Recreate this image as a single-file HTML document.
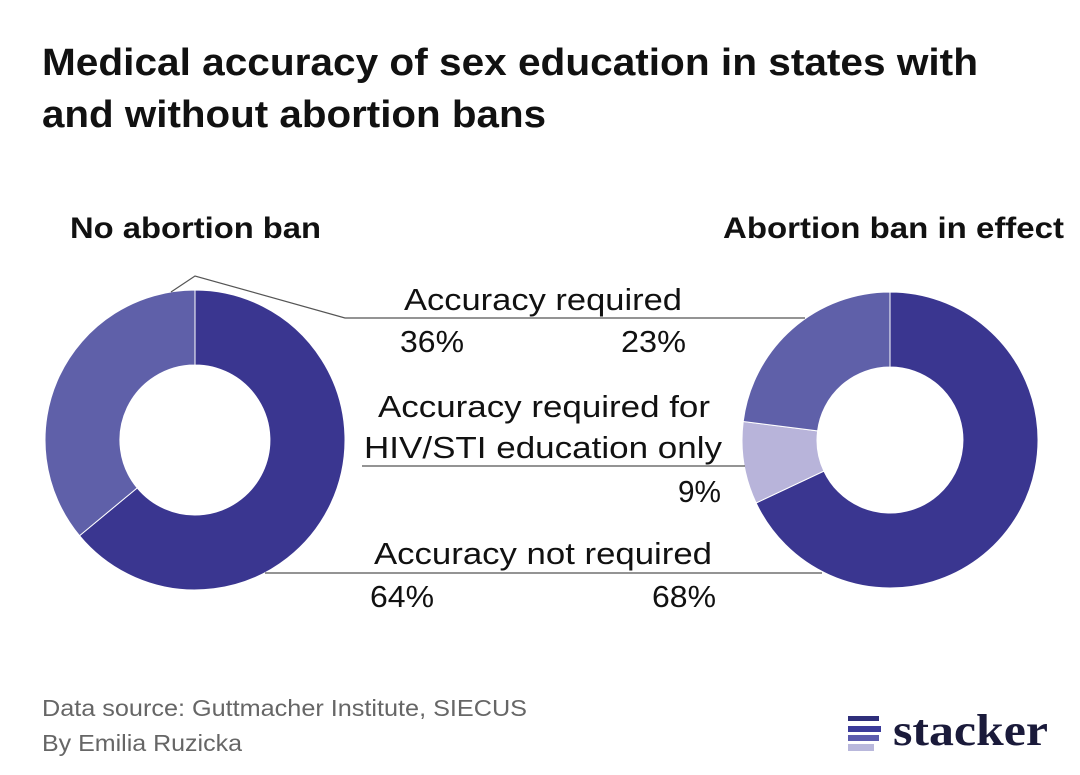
<!DOCTYPE html>
<html><head><meta charset="utf-8"><style>
html,body{margin:0;padding:0;background:#fff;}
body{width:1080px;height:770px;overflow:hidden;font-family:"Liberation Sans",sans-serif;}
</style></head><body>
<svg width="1080" height="770" viewBox="0 0 1080 770" xmlns="http://www.w3.org/2000/svg" font-family="Liberation Sans, sans-serif">
<text x="42" y="75" font-size="38" font-weight="bold" fill="#111" textLength="936" lengthAdjust="spacingAndGlyphs">Medical accuracy of sex education in states with</text>
<text x="42" y="127" font-size="38" font-weight="bold" fill="#111" textLength="504" lengthAdjust="spacingAndGlyphs">and without abortion bans</text>
<text x="70" y="238" font-size="30" font-weight="bold" fill="#111" textLength="251" lengthAdjust="spacingAndGlyphs">No abortion ban</text>
<text x="723" y="238" font-size="30" font-weight="bold" fill="#111" textLength="341" lengthAdjust="spacingAndGlyphs">Abortion ban in effect</text>
<!-- left donut -->
<path d="M195,290 A150,150 0 1 1 79.5,535.7 L137.2,487.9 A75,75 0 1 0 195,365 Z" fill="#3a3690" stroke="#fff" stroke-width="1"/>
<path d="M79.5,535.7 A150,150 0 0 1 195,290 L195,365 A75,75 0 0 0 137.2,487.9 Z" fill="#5f60a9" stroke="#fff" stroke-width="1"/>
<!-- right donut -->
<path d="M890,292 A148,148 0 1 1 756.1,503 L823.9,471.1 A73,73 0 1 0 890,367 Z" fill="#3a3690" stroke="#fff" stroke-width="1"/>
<path d="M756.1,503 A148,148 0 0 1 743.2,421.5 L817.6,430.9 A73,73 0 0 0 823.9,471.1 Z" fill="#b8b4da" stroke="#fff" stroke-width="1"/>
<path d="M743.2,421.5 A148,148 0 0 1 890,292 L890,367 A73,73 0 0 0 817.6,430.9 Z" fill="#5f60a9" stroke="#fff" stroke-width="1"/>
<!-- leader lines -->
<g stroke="#555" stroke-width="1.2" fill="none">
<polyline points="171,292 195,276 345,318 805,318"/>
<line x1="362" y1="466" x2="745" y2="466"/>
<line x1="265" y1="573" x2="822" y2="573"/>
</g>
<g font-size="31" fill="#111" lengthAdjust="spacingAndGlyphs">
<text x="404" y="310" textLength="278" lengthAdjust="spacingAndGlyphs">Accuracy required</text>
<text x="400" y="352" textLength="64" lengthAdjust="spacingAndGlyphs">36%</text>
<text x="621" y="352" textLength="65" lengthAdjust="spacingAndGlyphs">23%</text>
<text x="378" y="417" textLength="332" lengthAdjust="spacingAndGlyphs">Accuracy required for</text>
<text x="364" y="458" textLength="358" lengthAdjust="spacingAndGlyphs">HIV/STI education only</text>
<text x="678" y="502" textLength="43" lengthAdjust="spacingAndGlyphs">9%</text>
<text x="374" y="564" textLength="338" lengthAdjust="spacingAndGlyphs">Accuracy not required</text>
<text x="370" y="607" textLength="64" lengthAdjust="spacingAndGlyphs">64%</text>
<text x="652" y="607" textLength="64" lengthAdjust="spacingAndGlyphs">68%</text>
</g>
<text x="42" y="716" font-size="23" fill="#666" textLength="485" lengthAdjust="spacingAndGlyphs">Data source: Guttmacher Institute, SIECUS</text>
<text x="42" y="751" font-size="23" fill="#666" textLength="200" lengthAdjust="spacingAndGlyphs">By Emilia Ruzicka</text>
<rect x="848" y="716" width="31" height="5" fill="#2e2e7a"/>
<rect x="848" y="726" width="33" height="6" fill="#3b3b9a"/>
<rect x="848" y="735" width="31" height="6" fill="#5c5cae"/>
<rect x="848" y="744" width="26" height="7" fill="#b9b8dc"/>
<text x="893" y="745" font-size="44" font-weight="bold" font-family="Liberation Serif, serif" fill="#1a1a3a" textLength="155" lengthAdjust="spacingAndGlyphs">stacker</text>
</svg>
</body></html>
